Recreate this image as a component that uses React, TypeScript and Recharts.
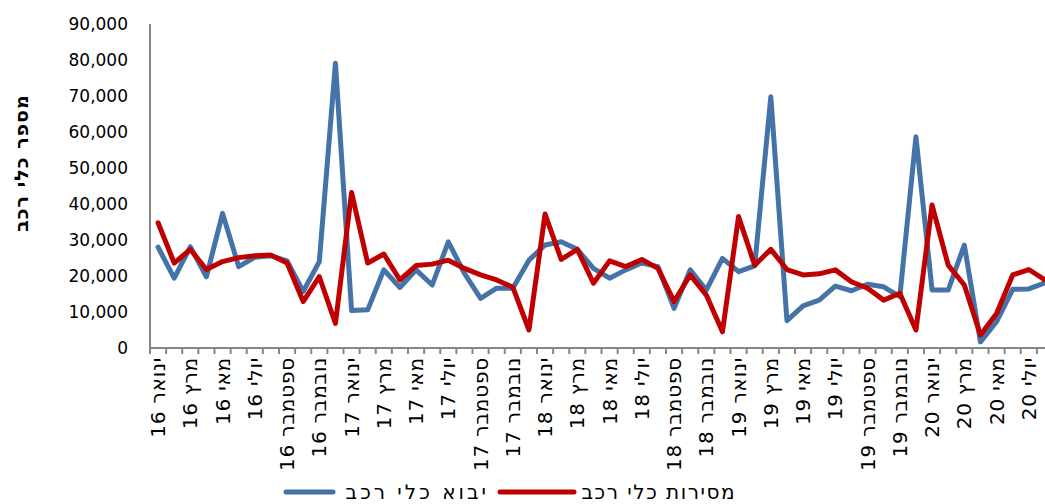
import React from 'react';
import { LineChart, Line, XAxis, YAxis, Legend } from 'recharts';

const monthNames = ['ינואר', 'פברואר', 'מרץ', 'אפריל', 'מאי', 'יוני', 'יולי', 'אוגוסט', 'ספטמבר', 'אוקטובר', 'נובמבר', 'דצמבר'];
const years = ['16', '17', '18', '19', '20'];
const categories: string[] = [];
years.forEach((yr) => monthNames.forEach((m) => categories.push(m + ' ' + yr)));
const months = categories.slice(0, 56); // ינואר 16 .. אוגוסט 20

const imports = [
  28000, 19400, 28100, 19800, 37400, 22600, 25200, 25600, 24200, 15700,
  24000, 79100, 10400, 10600, 21700, 16800, 21700, 17500, 29500, 20700,
  13800, 16600, 16600, 24400, 28600, 29500, 27400, 22100, 19400, 21700,
  23600, 22600, 11000, 21700, 16100, 24900, 21200, 22800, 69800, 7600,
  11700, 13300, 17200, 15900, 17700, 17000, 14300, 58700, 16100, 16100,
  28600, 1700, 7300, 16300, 16400, 18100,
];
const deliveries = [
  34800, 23600, 27400, 21800, 24000, 25100, 25600, 25800, 23600, 12900,
  19800, 6800, 43200, 23600, 26100, 18900, 22900, 23300, 24400, 22100,
  20300, 18900, 16900, 5000, 37200, 24600, 27400, 18000, 24200, 22600,
  24600, 22100, 12900, 20300, 14700, 4500, 36500, 23000, 27400, 21800,
  20300, 20600, 21700, 18400, 16600, 13300, 15200, 5000, 39700, 23000,
  17500, 3600, 9600, 20300, 21800, 18900,
];
const yTicks = [0, 10000, 20000, 30000, 40000, 50000, 60000, 70000, 80000, 90000];
const seriesNames = { imports: 'יבוא כלי רכב', deliveries: 'מסירות כלי רכב' };
const yTitle = 'מספר כלי רכב';

const data = months.map((m, i) => ({ month: m, imports: imports[i], deliveries: deliveries[i] }));

const CHART_W = 1060;
const CHART_H = 504;
const MARGIN = { top: 24, right: 7, left: 0, bottom: 0 };
const Y_W = 150;
const PLOT_W = CHART_W - MARGIN.right - MARGIN.left - Y_W;
const HALF_BAND = PLOT_W / months.length / 2;

const BLUE = '#4572A7';
const RED = '#C00000';
const AXIS = '#868686';
const FONT = '"DejaVu Sans", sans-serif';

const XTick = (props: any) => {
  const { x, y, payload, index } = props;
  const i = index ?? payload.index;
  return (
    <g>
      <line x1={x - HALF_BAND} x2={x - HALF_BAND} y1={y} y2={y + 6} stroke={AXIS} strokeWidth={2} />
      {i === months.length - 1 && (
        <line x1={x + HALF_BAND} x2={x + HALF_BAND} y1={y} y2={y + 6} stroke={AXIS} strokeWidth={2} />
      )}
      {i % 2 === 0 && (
        <text
          x={x}
          y={y + 9}
          transform={`rotate(-90, ${x}, ${y + 9})`}
          direction="rtl"
          textAnchor="start"
          dominantBaseline="central"
          fontFamily={FONT}
          fontSize={20}
          letterSpacing={0.8}
          fill="#000"
        >
          {payload.value}
        </text>
      )}
    </g>
  );
};

const YTitle = () => (
  <text
    x={21}
    y={163}
    transform="rotate(-90, 21, 163)"
    direction="rtl"
    textAnchor="middle"
    dominantBaseline="central"
    fontFamily={FONT}
    fontWeight="bold"
    fontSize={19}
    letterSpacing={1}
    fill="#000"
  >
    {yTitle}
  </text>
);

const LegendContent = () => (
  <svg width={1045} height={36} style={{ display: 'block' }}>
    <line x1={286} x2={333} y1={24} y2={24} stroke={BLUE} strokeWidth={5} strokeLinecap="round" />
    <text x={489} y={24} direction="rtl" textAnchor="start" dominantBaseline="central"
      fontFamily={FONT} fontSize={20} letterSpacing={3} fill="#000">
      {seriesNames.imports}
    </text>
    <line x1={500} x2={574} y1={24} y2={24} stroke={RED} strokeWidth={5} strokeLinecap="round" />
    <text x={736} y={24} direction="rtl" textAnchor="start" dominantBaseline="central"
      fontFamily={FONT} fontSize={20} letterSpacing={1.5} fill="#000">
      {seriesNames.deliveries}
    </text>
  </svg>
);

export default function App() {
  return (
    <div style={{ position: 'fixed', left: 0, top: 0, width: 1045, height: 504, overflow: 'hidden', background: '#fff' }}>
      <LineChart width={CHART_W} height={CHART_H} data={data} margin={MARGIN}>
        <XAxis
          dataKey="month"
          interval={0}
          padding={{ left: HALF_BAND, right: HALF_BAND }}
          height={120}
          tickLine={false}
          tickSize={0}
          tickMargin={0}
          axisLine={{ stroke: AXIS, strokeWidth: 2 }}
          tick={<XTick />}
        />
        <YAxis
          width={Y_W}
          domain={[0, 90000]}
          ticks={yTicks}
          interval={0}
          tickLine={false}
          tickSize={0}
          tickMargin={22}
          axisLine={{ stroke: AXIS, strokeWidth: 2 }}
          tickFormatter={(v: number) => v.toLocaleString('en-US')}
          tick={{ fontFamily: FONT, fontSize: 17, fill: '#000' }}
          label={<YTitle />}
        />
        <Legend verticalAlign="bottom" height={36} wrapperStyle={{ left: 0 }} content={<LegendContent />} />
        <Line
          type="linear"
          dataKey="imports"
          name={seriesNames.imports}
          stroke={BLUE}
          strokeWidth={5}
          dot={false}
          isAnimationActive={false}
          strokeLinejoin="round"
          strokeLinecap="round"
        />
        <Line
          type="linear"
          dataKey="deliveries"
          name={seriesNames.deliveries}
          stroke={RED}
          strokeWidth={5}
          dot={false}
          isAnimationActive={false}
          strokeLinejoin="round"
          strokeLinecap="round"
        />
      </LineChart>
    </div>
  );
}
